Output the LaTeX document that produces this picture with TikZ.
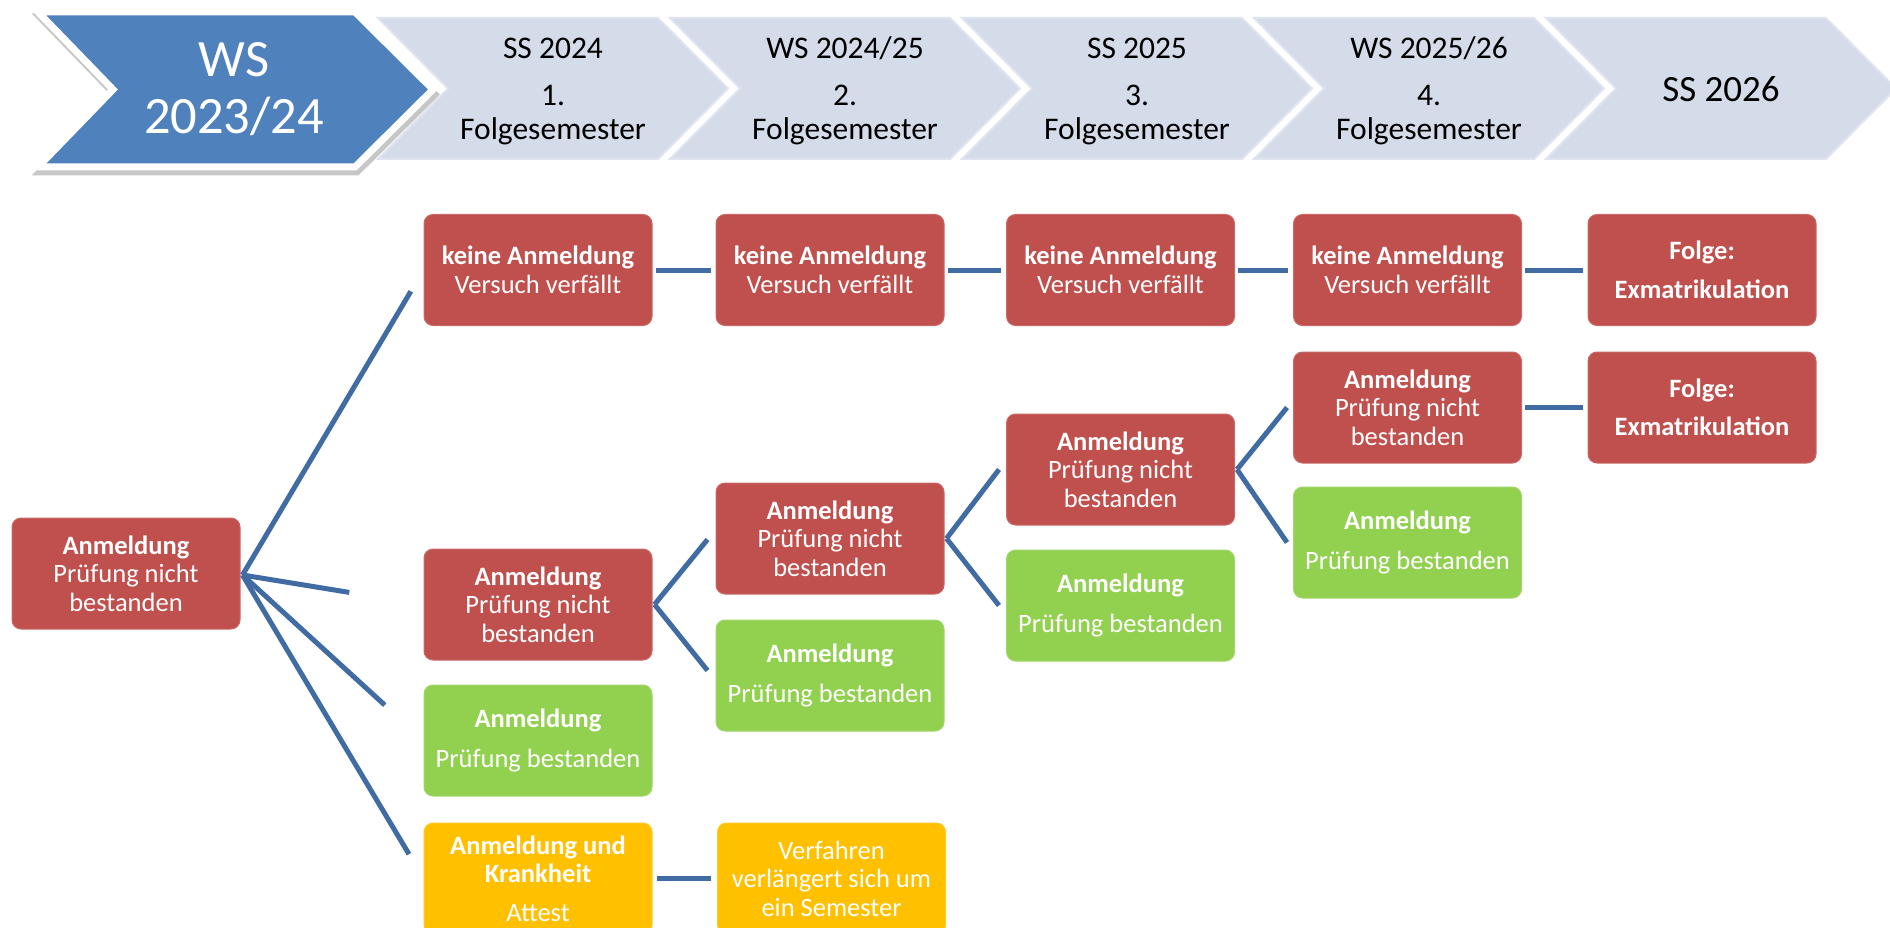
\documentclass[tikz,border=0pt]{standalone}
\usepackage{fontspec}
\setmainfont{Carlito}
\usetikzlibrary{calc}
\definecolor{boxred}{RGB}{192,80,77}
\definecolor{boxgreen}{RGB}{146,208,80}
\definecolor{boxyellow}{RGB}{255,192,0}
\definecolor{chevblue}{RGB}{79,129,189}
\definecolor{chevlight}{RGB}{212,219,233}
\definecolor{chevedge}{RGB}{223,228,239}
\definecolor{linkblue}{RGB}{64,108,163}
\tikzset{
  stagebox/.style={rectangle, rounded corners=9pt, minimum width=228pt, minimum height=111pt,
    inner sep=0pt, text=white, align=center, font=\fontsize{26.5}{28.5}\selectfont, line width=1pt},
  failbox/.style={stagebox, fill=boxred, draw=boxred!85!white},
  passbox/.style={stagebox, fill=boxgreen, draw=boxgreen!85!white},
  sickbox/.style={stagebox, fill=boxyellow, draw=boxyellow!85!white},
  link/.style={draw=linkblue, line width=5pt},
  chevshape/.style={fill=chevlight, draw=chevedge, line width=2pt, line join=miter},
  semtext/.style={align=center, inner sep=0pt, font=\fontsize{31.5}{34}\selectfont, text=black},
}
\begin{document}
\begin{tikzpicture}[x=1pt, y=-1pt]
\useasboundingbox (0,0) rectangle (1890,928);
\clip (0,0) rectangle (1890,928);
\fill[white] (0,0) rectangle (1890,928);
% light chevrons
\foreach \L in {378,670,962,1254,1546}{
  \draw[chevshape] (\L,18) -- ++(280,0) -- ++(70,70.5) -- ++(-70,70.5) -- ++(-280,0) -- ++(70,-70.5) -- cycle;
}
% blue chevron with shadow and white border
\begin{scope}[shift={(2,5)}]
  \filldraw[black!22, line width=7pt, line join=miter] (38,12) -- (355,12) -- (433,89.5) -- (355,167) -- (38,167) -- (113,89.5) -- cycle;
\end{scope}
\filldraw[fill=chevblue, draw=white, line width=7pt, line join=miter] (38,12) -- (355,12) -- (433,89.5) -- (355,167) -- (38,167) -- (113,89.5) -- cycle;
% header texts
\node[semtext, text=white, font=\fontsize{52.5}{57}\selectfont] (h0) at (234,89) {WS\\2023/24};
\node[semtext] (h1) at (553,91) {SS 2024\\[13pt]1.\\Folgesemester};
\node[semtext] (h2) at (845,91) {WS 2024/25\\[13pt]2.\\Folgesemester};
\node[semtext] (h3) at (1137,91) {SS 2025\\[13pt]3.\\Folgesemester};
\node[semtext] (h4) at (1429,91) {WS 2025/26\\[13pt]4.\\Folgesemester};
\node[semtext, font=\fontsize{37}{40}\selectfont] (h5) at (1721,89) {SS 2026};
% boxes
\node[failbox] (A0) at (126,573.5) {\textbf{Anmeldung}\\Prüfung nicht\\bestanden};
\node[failbox] (K1) at (538,270) {\textbf{keine Anmeldung}\\Versuch verfällt};
\node[failbox] (K2) at (830,270) {\textbf{keine Anmeldung}\\Versuch verfällt};
\node[failbox] (K3) at (1120.5,270) {\textbf{keine Anmeldung}\\Versuch verfällt};
\node[failbox] (K4) at (1407.5,270) {\textbf{keine Anmeldung}\\Versuch verfällt};
\node[failbox] (F1) at (1702,270) {\textbf{Folge:}\\[10pt]\textbf{Exmatrikulation}};
\node[failbox] (R4) at (1407.5,407.5) {\textbf{Anmeldung}\\Prüfung nicht\\bestanden};
\node[failbox] (F2) at (1702,407.5) {\textbf{Folge:}\\[10pt]\textbf{Exmatrikulation}};
\node[failbox] (R3) at (1120.5,469.5) {\textbf{Anmeldung}\\Prüfung nicht\\bestanden};
\node[passbox] (G4) at (1407.5,542.5) {\textbf{Anmeldung}\\[11pt]Prüfung bestanden};
\node[failbox] (R2) at (830,538.5) {\textbf{Anmeldung}\\Prüfung nicht\\bestanden};
\node[passbox] (G3) at (1120.5,605.5) {\textbf{Anmeldung}\\[11pt]Prüfung bestanden};
\node[failbox] (R1) at (538,604.5) {\textbf{Anmeldung}\\Prüfung nicht\\bestanden};
\node[passbox] (G2) at (830,675.5) {\textbf{Anmeldung}\\[11pt]Prüfung bestanden};
\node[passbox] (G1) at (538,740.5) {\textbf{Anmeldung}\\[11pt]Prüfung bestanden};
\node[sickbox] (Y1) at (538,878.5) {\textbf{Anmeldung und}\\\textbf{Krankheit}\\[10pt]Attest};
\node[sickbox] (Y2) at (831.5,878.5) {Verfahren\\verlängert sich um\\ein Semester};
% fan from A0 (free ends)
\coordinate (a0o) at ($(A0.east)+(2,1.5)$);
\coordinate (eK1) at ($(a0o)!0.93!(K1.west)$);
\coordinate (eR1) at ($(a0o)!0.59!(R1.west)$);
\coordinate (eG1) at ($(a0o)!0.786!(G1.west)$);
\coordinate (eY1) at ($(a0o)!0.92!(Y1.west)$);
\draw[link] (a0o) -- (eK1);
\draw[link] (a0o) -- (eR1);
\draw[link] (a0o) -- (eG1);
\draw[link] (a0o) -- (eY1);
% forks
\draw[link] ($(R1.east)+(2,0)$) -- ($(R2.west)+(-8,1)$);
\draw[link] ($(R1.east)+(2,0)$) -- ($(G2.west)+(-8,-5)$);
\draw[link] ($(R2.east)+(2,0)$) -- ($(R3.west)+(-7,0)$);
\draw[link] ($(R2.east)+(2,0)$) -- ($(G3.west)+(-7,0)$);
\draw[link] ($(R3.east)+(2,0)$) -- ($(R4.west)+(-6,0)$);
\draw[link] ($(R3.east)+(2,0)$) -- ($(G4.west)+(-6,0)$);
% straight links
\draw[link] ($(K1.east)+(3,0)$) -- ($(K2.west)+(-5,0)$);
\draw[link] ($(K2.east)+(3,0)$) -- ($(K3.west)+(-5,0)$);
\draw[link] ($(K3.east)+(3,0)$) -- ($(K4.west)+(-5,0)$);
\draw[link] ($(K4.east)+(3,0)$) -- ($(F1.west)+(-5,0)$);
\draw[link] ($(R4.east)+(3,0)$) -- ($(F2.west)+(-5,0)$);
\draw[link] ($(Y1.east)+(4,0)$) -- ($(Y2.west)+(-6,0)$);
\end{tikzpicture}
\end{document}
